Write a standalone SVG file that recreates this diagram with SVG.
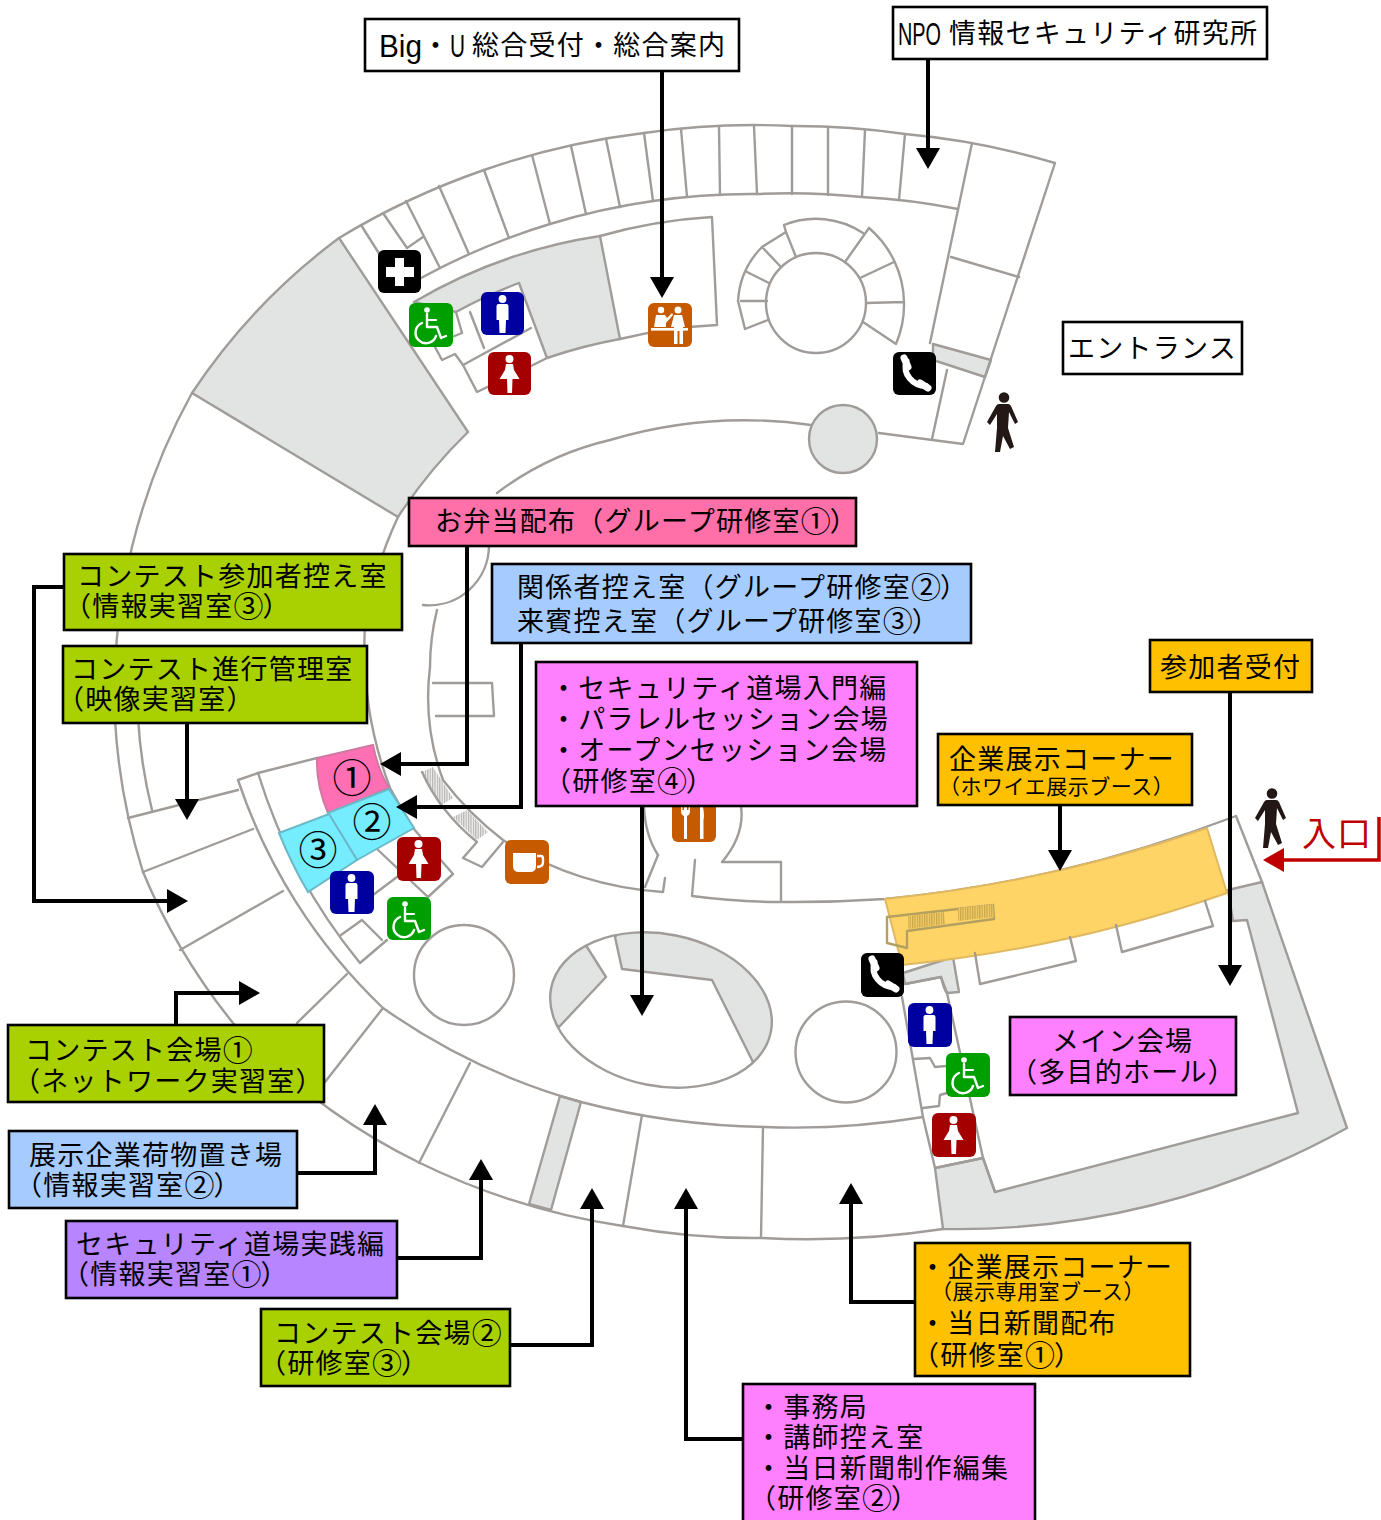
<svg xmlns="http://www.w3.org/2000/svg" width="1381" height="1520" viewBox="0 0 1381 1520">
<style>
.w{fill:none;stroke:#a09c9a;stroke-width:2.4;stroke-linejoin:round;stroke-linecap:round}
.g{fill:#e2e4e3;stroke:#a09c9a;stroke-width:2.4;stroke-linejoin:round}
.box{stroke:#000;stroke-width:2.6}
text{font-family:"Noto Sans CJK JP","Noto Sans",sans-serif;font-size:27px;letter-spacing:1.25px;fill:#000}
.s{font-size:21px;letter-spacing:.5px}
.m{font-family:"Liberation Sans",sans-serif;font-size:31px;letter-spacing:0}
.n{font-size:39px;letter-spacing:0;text-anchor:middle}
.d{font-size:30px;letter-spacing:-1px}
.c{fill:none;stroke:#000;stroke-width:4;stroke-linejoin:miter}
.wh{fill:#fff}
.wl{fill:none;stroke:#fff;stroke-linecap:round;stroke-linejoin:round}
</style>
<defs>
<marker id="a" markerUnits="userSpaceOnUse" markerWidth="24" markerHeight="26" refX="10" refY="12" orient="auto"><path d="M0,0L21,12L0,24Z" fill="#000"/></marker>
<marker id="r" markerUnits="userSpaceOnUse" markerWidth="24" markerHeight="26" refX="10" refY="12" orient="auto"><path d="M0,0L21,12L0,24Z" fill="#c00000"/></marker>
<pattern id="h" width="2.4" height="6" patternUnits="userSpaceOnUse"><rect width="2.4" height="6" fill="#f1f1f1"/><rect width="1.2" height="6" fill="#b5b3b2"/></pattern>
<pattern id="hy" width="2.4" height="6" patternUnits="userSpaceOnUse"><rect width="2.4" height="6" fill="#f3cd68"/><rect width="1.2" height="6" fill="#c9a548"/></pattern>
<clipPath id="el"><ellipse cx="661" cy="1010" rx="112" ry="76" transform="rotate(11.3 661 1010)"/></clipPath>
<symbol id="male" viewBox="0 0 43 44" width="43" height="44"><circle cx="21.5" cy="7" r="3.9" class="wh"/><path d="M17.5,12H25.5Q27.5,12 27.5,14V28H25L24.5,41H18.5L18,28H15.5V14Q15.5,12 17.5,12Z" class="wh"/></symbol>
<symbol id="female" viewBox="0 0 43 44" width="43" height="44"><circle cx="21.5" cy="7" r="4" class="wh"/><path d="M18,12H25L26,18L31.5,27H24.5L24,41H19.5L19,27H11.5L17,18Z" class="wh"/></symbol>
<symbol id="wheel" viewBox="0 0 43 44" width="43" height="44"><circle cx="18" cy="7" r="2.8" class="wh"/><path d="M18,11V24H28L32,35L37,33" class="wl" stroke-width="2.4"/><path d="M18,17H27" class="wl" stroke-width="2.2"/><path d="M13,20A10.5,10.5 0 1 0 27,33" class="wl" stroke-width="2.4"/></symbol>
<symbol id="phone" viewBox="0 0 43 44" width="43" height="44"><path d="M13.5,9C9,22 20,34 33,34" class="wl" stroke-width="6"/><path d="M11,6L15,15M27,31L35,36" class="wl" stroke-width="7"/></symbol>
<symbol id="cross" viewBox="0 0 43 44" width="43" height="44"><path d="M17,8H26V17H36V27H26V36H17V27H8V17H17Z" class="wh"/></symbol>
<symbol id="recep" viewBox="0 0 43 44" width="43" height="44"><circle cx="13" cy="7" r="3.2" class="wh"/><path d="M8,12H17L19,15L24,10L25,12L18,20V24H6Z" class="wh"/><circle cx="30" cy="7" r="3.5" class="wh"/><path d="M26,12H34L37,24H35V41H31.5V28H29.5V41H26V24H23Z" class="wh"/><rect x="3" y="25" width="37" height="2.6" class="wh"/></symbol>
<symbol id="cup" viewBox="0 0 43 44" width="43" height="44"><path d="M8,13H31V26Q31,32 25,32H14Q8,32 8,26Z" class="wh"/><path d="M32,16H36Q38,16 38,19V22Q38,27 32,27" fill="none" stroke="#fff" stroke-width="2.4"/></symbol>
<symbol id="cut" viewBox="0 0 43 44" width="43" height="44"><path d="M9,4V13Q9,17 12,18L12,41H15L15,18Q18,17 18,13V4H16.5V12H15V4H12V12H10.5V4Z" class="wh"/><path d="M28,4Q32,8 32,18L31.5,22V41H28Z" class="wh"/></symbol>
<symbol id="walk" viewBox="0 0 32 62" width="32" height="62"><circle cx="18" cy="5.500" r="5.300" fill="#231815"/><path d="M13,12H22Q24,12 25,14L32,30L29,32L23,20L22,36L28,55L24,57L17,44L14,60L9,60L11,36V22L4,33L1,30L10,14Q11,12 13,12Z" fill="#231815"/></symbol>
</defs>
<rect width="1381" height="1520" fill="#fff"/>

<g id="plan">
<path class="g" d="M339,238A620,620 0 0 0 192,393L398,517A500,500 0 0 1 468,432Z"/>
<path class="g" d="M414,302A520,520 0 0 1 600,236L620,339A500,500 0 0 0 547,358L519,283A460,460 0 0 0 456,312Z"/>
<path class="g" d="M933,344L991,360L985,377L933,360Z"/>
<circle cx="843" cy="439" r="34" class="g"/>
<path class="g" d="M1262,882L1347,1128A800,800 0 0 1 943,1229L935,1168L983,1158L995,1192L1298,1113L1247,920L1233,921L1228,890Z"/>
<path class="g" d="M529,1204L560,1096L581,1102L551,1210Z"/>
<path class="g" d="M903,973L953,957L959,992L947,993L941,977L905,984Z"/>

<path class="w" d="M339,238A760,760 0 0 1 484,170A760,760 0 0 1 644,133A760,760 0 0 1 792,126A760,760 0 0 1 905,134A760,760 0 0 1 1055,163L963,444L879,433"/>
<path class="w" d="M192,393A620,620 0 0 0 132,547A620,620 0 0 0 115,720A620,620 0 0 0 143,872A620,620 0 0 0 233,1023A620,620 0 0 0 420,1163A700,700 0 0 0 623,1226A720,720 0 0 0 761,1238A900,900 0 0 0 943,1229"/>
<path class="w" d="M958,209A680,680 0 0 0 862,197A680,680 0 0 0 757,194A680,680 0 0 0 653,201A680,680 0 0 0 550,224A680,680 0 0 0 421,278"/>
<path class="w" d="M905,134L899,200M865,130L862,197M828,127V195M792,126V194M754,126L757,194M719,127L720,195M681,129L687,197M644,133L653,201M606,139L620,207M571,146L586,214M532,155L550,224M484,170L509,238M439,186L469,254M406,201L440,268M383,213L407,248L423,237M361,225L380,255"/>
<path class="w" d="M972,143L930,343M947,370L932,439M951,257L1019,277"/>
<path class="w" d="M600,236A520,520 0 0 1 712,217L717,325A500,500 0 0 0 620,339M547,358L531,366L477,392L463,365L531,328"/>
<path class="w" d="M456,312L462,333L452,337M435,347L442,360L455,354L463,365M470,312L484,348"/>
<circle cx="816" cy="303" r="50" fill="#fff" class="w"/>
<path class="w" d="M745,329L738,301A84,84 0 0 1 762,247L786,232L796,257M784,225A85,85 0 0 1 863,233M869,228A100,100 0 0 1 904,302A100,100 0 0 1 896,344L863,322M866,303L904,302M860,278L894,262M845,262L869,228M762,247L781,267M747,272L769,283M741,301H767M745,329L768,320M786,232L784,225"/>
<path class="w" d="M811,425A470,470 0 0 0 610,440A300,300 0 0 0 497,493"/>
<path class="w" d="M437,610A240,240 0 0 0 430,667A240,240 0 0 0 443,780A320,320 0 0 0 503,840A340,340 0 0 0 663,892L665,878M645,887L658,855"/>
<path class="w" d="M423,605A60,60 0 0 0 489,546M433,683H492L494,716H436M466,683L467,716"/>
<path class="w" d="M644,806Q645,835 658,855M741,806Q745,835 722,862H781V902M695,860L692,896A700,700 0 0 0 780,902A1400,1400 0 0 0 885,899A1400,1400 0 0 0 1053,872A1400,1400 0 0 0 1236,816L1262,882"/>
<path class="w" d="M398,517A400,400 0 0 0 365,625A400,400 0 0 0 390,788L413,828L453,874L428,897M378,850L428,897"/>
<path class="w" d="M138,717A500,500 0 0 0 152,810"/>
<path class="w" d="M128,818L238,790M143,872L253,829M180,950L283,891"/>
<path class="w" d="M238,780L258,773L317,758M238,780A560,560 0 0 0 383,1008A640,640 0 0 0 581,1102A780,780 0 0 0 764,1127A780,780 0 0 0 923,1117"/>
<path class="w" d="M258,773A560,560 0 0 0 360,963L387,940M341,935L362,920L382,940M397,877L373,895"/>
<path class="w" d="M347,974L297,1023M383,1008L325,1082M470,1063L419,1163M642,1115L623,1226M763,1127L761,1238"/>
<path d="M422,772L433,767L453,798L440,806Z" fill="url(#h)"/>
<path d="M453,817L467,810L488,832L477,840Z" fill="url(#h)"/>
<path class="w" d="M422,772Q440,812 477,842L463,858L482,867L503,842"/>
<path d="M317,758L373,745Q378,770 389,788L328,813Q316,785 317,758Z" fill="#ff6fb4" stroke="#d079a0" stroke-width="2"/>
<path d="M328,813L389,789L414,828L357,860Z" fill="#76ecff" stroke="#6bb9c8" stroke-width="2"/>
<path d="M279,833L329,814L357,860L308,892Q292,865 279,833Z" fill="#76ecff" stroke="#6bb9c8" stroke-width="2"/>
<ellipse cx="661" cy="1010" rx="112" ry="76" transform="rotate(11.3 661 1010)" fill="#fff"/>
<g clip-path="url(#el)">
<path class="g" d="M587,947L606,977L559,1027L530,1000L560,930Z"/>
<path class="g" d="M615,937L622,969L712,980L753,1062L800,1050L790,920L650,900Z"/>
</g>
<ellipse cx="661" cy="1010" rx="112" ry="76" transform="rotate(11.3 661 1010)" class="w"/>
<circle cx="464" cy="975" r="50" class="w"/>
<circle cx="846" cy="1052" r="50.500" class="w"/>
<path d="M885,899A1400,1400 0 0 0 1207,828L1227,893A1400,1400 0 0 1 902,965Z" fill="#ffd466" stroke="#e0b860" stroke-width="2"/>
<path class="w" d="M887,917L993,905L994,919L907,931L907,948L887,943Z" style="stroke:#b4a060"/>
<path d="M908,916L944,912L945,924L908,929Z" fill="url(#hy)"/>
<path d="M958,908L993,904L994,917L958,921Z" fill="url(#hy)"/>
<path class="w" d="M975,953L980,984L1076,961L1070,937M1116,925L1122,952L1213,926L1205,901"/>
<path class="w" d="M905,984L941,977Q944,990 947,993L983,1158L995,1192M902,997L923,1117L935,1168M914,1059L930,1058L935,1067L946,1066M947,1093L940,1095L939,1106L923,1108M935,1168L983,1158"/>
</g>

<g id="icons">
<g id="i-cross"><rect x="378" y="250" width="43" height="43" rx="6"/><use href="#cross" x="378" y="250"/></g>
<g id="i-wheel1"><rect x="409" y="303" width="44" height="44" rx="6" fill="#009f00"/><use href="#wheel" x="409" y="303"/></g>
<g id="i-male1"><rect x="481" y="292" width="43" height="43" rx="6" fill="#0000a0"/><use href="#male" x="481" y="292"/></g>
<g id="i-female1"><rect x="488" y="352" width="43" height="43" rx="6" fill="#a50000"/><use href="#female" x="488" y="352"/></g>
<g id="i-recep"><rect x="648" y="303" width="44" height="44" rx="6" fill="#c55a00"/><use href="#recep" x="648" y="303"/></g>
<g id="i-phone1"><rect x="893" y="352" width="43" height="43" rx="6"/><use href="#phone" x="893" y="352"/></g>
<g id="i-female2"><rect x="397" y="837" width="44" height="44" rx="6" fill="#a50000"/><use href="#female" x="397" y="837"/></g>
<g id="i-male2"><rect x="330" y="871" width="44" height="43" rx="6" fill="#0000a0"/><use href="#male" x="330" y="871"/></g>
<g id="i-wheel2"><rect x="387" y="897" width="44" height="43" rx="6" fill="#009f00"/><use href="#wheel" x="387" y="897"/></g>
<g id="i-cup"><rect x="505" y="840" width="44" height="44" rx="6" fill="#c55a00"/><use href="#cup" x="505" y="840"/></g>
<g id="i-cut"><rect x="672" y="798" width="44" height="44" rx="6" fill="#c55a00"/><use href="#cut" x="672" y="798"/></g>
<g id="i-phone2"><rect x="861" y="953" width="43" height="44" rx="6"/><use href="#phone" x="861" y="953"/></g>
<g id="i-male3"><rect x="908" y="1003" width="44" height="44" rx="6" fill="#0000a0"/><use href="#male" x="908" y="1003"/></g>
<g id="i-wheel3"><rect x="946" y="1053" width="44" height="44" rx="6" fill="#009f00"/><use href="#wheel" x="946" y="1053"/></g>
<g id="i-female3"><rect x="932" y="1113" width="44" height="44" rx="6" fill="#a50000"/><use href="#female" x="932" y="1113"/></g>
<use id="i-walk1" href="#walk" x="986" y="392"/>
<use id="i-walk2" href="#walk" x="1254" y="788"/>
</g>

<g id="rooms">
<text class="n" x="352" y="792">①</text>
<text class="n" x="372" y="836">②</text>
<text class="n" x="318" y="864">③</text>
</g>

<g id="connectors">
<path class="c" marker-end="url(#a)" d="M662,71V287"/>
<path class="c" marker-end="url(#a)" d="M928,59V158"/>
<path class="c" marker-end="url(#a)" d="M467,546V764H391"/>
<path class="c" marker-end="url(#a)" d="M521,643V807H407"/>
<path class="c" marker-end="url(#a)" d="M64,587H34V901H177"/>
<path class="c" marker-end="url(#a)" d="M187,723V809"/>
<path class="c" marker-end="url(#a)" d="M642,806V1005"/>
<path class="c" marker-end="url(#a)" d="M1230,692V975"/>
<path class="c" marker-end="url(#a)" d="M1060,805V860"/>
<path class="c" style="stroke:#c00000;stroke-width:3.500" marker-end="url(#r)" d="M1379,817V860H1274"/>
<path class="c" marker-end="url(#a)" d="M176,1025V993H249"/>
<path class="c" marker-end="url(#a)" d="M297,1173H375V1115"/>
<path class="c" marker-end="url(#a)" d="M397,1258H481V1170"/>
<path class="c" marker-end="url(#a)" d="M510,1345H592V1199"/>
<path class="c" marker-end="url(#a)" d="M915,1302H851V1194"/>
<path class="c" marker-end="url(#a)" d="M743,1439H686V1199"/>
</g>

<g id="n-bigu"><rect class="box" x="365" y="19" width="374" height="52" fill="#fff"/><text class="m" x="379" y="57" textLength="43" lengthAdjust="spacingAndGlyphs">Big</text><text x="422" y="55">・</text><text class="m" x="450" y="57" textLength="15" lengthAdjust="spacingAndGlyphs">U</text><text x="472" y="55">総合受付・総合案内</text></g>
<g id="n-npo"><rect class="box" x="893" y="7" width="374" height="52" fill="#fff"/><text class="m" x="898" y="45" textLength="43" lengthAdjust="spacingAndGlyphs">NPO</text><text x="949" y="43">情報セキュリティ研究所</text></g>
<g id="n-entr"><rect class="box" x="1063" y="322" width="179" height="52" fill="#fff"/><text x="1068" y="358">エントランス</text></g>
<g id="n-bento"><rect class="box" x="409" y="498" width="447" height="48" fill="#ff6fa8"/><text x="435" y="531">お弁当配布（グループ研修室<tspan class="d" dy="1">①</tspan><tspan dy="-1">）</tspan></text></g>
<g id="n-sanka"><rect class="box" x="64" y="554" width="338" height="76" fill="#a9d000"/><text x="77" y="586">コンテスト参加者控え室</text><text x="64" y="616">（情報実習室<tspan class="d" dy="1">③</tspan><tspan dy="-1">）</tspan></text></g>
<g id="n-kankei"><rect class="box" x="492" y="564" width="479" height="79" fill="#a6ccff"/><text x="517" y="597">関係者控え室（グループ研修室<tspan class="d" dy="1">②</tspan><tspan dy="-1">）</tspan></text><text x="517" y="631">来賓控え室（グループ研修室<tspan class="d" dy="1">③</tspan><tspan dy="-1">）</tspan></text></g>
<g id="n-shinko"><rect class="box" x="63" y="646" width="304" height="77" fill="#a9d000"/><text x="71" y="679">コンテスト進行管理室</text><text x="57" y="709">（映像実習室）</text></g>
<g id="n-dojo"><rect class="box" x="536" y="662" width="381" height="144" fill="#ff80ff"/><text x="550" y="698">・セキュリティ道場入門編</text><text x="550" y="729">・パラレルセッション会場</text><text x="550" y="760">・オープンセッション会場</text><text x="544" y="791">（研修室<tspan class="d" dy="1">④</tspan><tspan dy="-1">）</tspan></text></g>
<g id="n-uketsuke"><rect class="box" x="1150" y="640" width="162" height="52" fill="#ffc000"/><text x="1160" y="677">参加者受付</text></g>
<g id="n-kigyo"><rect class="box" x="938" y="734" width="254" height="71" fill="#ffc000"/><text x="949" y="769">企業展示コーナー</text><text class="s" x="939" y="794">（ホワイエ展示ブース）</text></g>
<g id="n-main"><rect class="box" x="1010" y="1017" width="226" height="78" fill="#ff80ff"/><text x="1052" y="1051">メイン会場</text><text x="1010" y="1082">（多目的ホール）</text></g>
<g id="n-kai1"><rect class="box" x="8" y="1025" width="316" height="77" fill="#a9d000"/><text x="25" y="1060">コンテスト会場<tspan class="d" dy="1">①</tspan></text><text x="13" y="1091">（ネットワーク実習室）</text></g>
<g id="n-nimotsu"><rect class="box" x="9" y="1131" width="288" height="77" fill="#a6ccff"/><text x="29" y="1165">展示企業荷物置き場</text><text x="15" y="1195">（情報実習室<tspan class="d" dy="1">②</tspan><tspan dy="-1">）</tspan></text></g>
<g id="n-jissen"><rect class="box" x="66" y="1221" width="331" height="77" fill="#b685ff"/><text x="76" y="1254">セキュリティ道場実践編</text><text x="62" y="1284">（情報実習室<tspan class="d" dy="1">①</tspan><tspan dy="-1">）</tspan></text></g>
<g id="n-kai2"><rect class="box" x="261" y="1309" width="249" height="77" fill="#a9d000"/><text x="274" y="1343">コンテスト会場<tspan class="d" dy="1">②</tspan></text><text x="259" y="1373">（研修室<tspan class="d" dy="1">③</tspan><tspan dy="-1">）</tspan></text></g>
<g id="n-kigyo2"><rect class="box" x="915" y="1243" width="275" height="133" fill="#ffc000"/><text x="919" y="1277">・企業展示コーナー</text><text class="s" x="931" y="1299">（展示専用室ブース）</text><text x="919" y="1333">・当日新聞配布</text><text x="912" y="1365">（研修室<tspan class="d" dy="1">①</tspan><tspan dy="-1">）</tspan></text></g>
<g id="n-jimu"><rect class="box" x="743" y="1384" width="292" height="140" fill="#ff80ff"/><text x="755" y="1417">・事務局</text><text x="755" y="1447">・講師控え室</text><text x="755" y="1478">・当日新聞制作編集</text><text x="749" y="1508">（研修室<tspan class="d" dy="1">②</tspan><tspan dy="-1">）</tspan></text></g>
<g id="n-iriguchi"><text x="1302" y="846" style="font-size:34px;fill:#c00000;letter-spacing:1px">入口</text></g>
</svg>
